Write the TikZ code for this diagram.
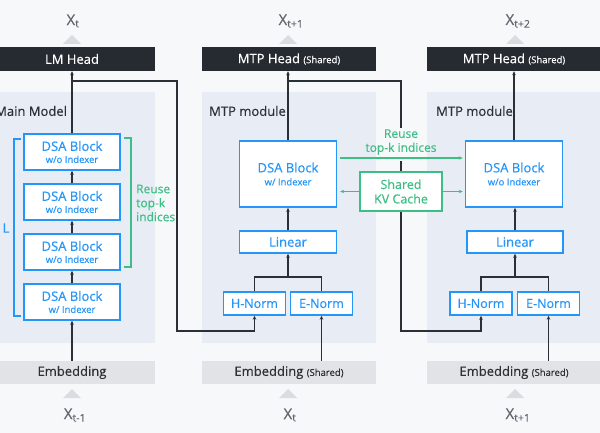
\documentclass[tikz,border=0pt]{standalone}
\usepackage{fontspec}
\setmainfont{Open Sans}[FakeBold=0.35]
\usetikzlibrary{arrows.meta}

\definecolor{bgcol}{HTML}{F7F8FA}
\definecolor{panelbg}{HTML}{E8ECF4}
\definecolor{headdark}{HTML}{262A31}
\definecolor{embgray}{HTML}{E1E3E6}
\definecolor{trigray}{HTML}{D9DCE0}
\definecolor{xgray}{HTML}{62666D}
\definecolor{dsablue}{HTML}{2496FA}
\definecolor{reusegreen}{HTML}{3DBE85}
\definecolor{linedark}{HTML}{2B2F36}

\newcommand{\subsz}{\fontsize{9.5}{11}\selectfont}

\tikzset{
  headbox/.style={fill=headdark, text=white, minimum height=24pt, inner sep=0pt, font=\fontsize{13}{15}\selectfont},
  embbar/.style={fill=embgray, text=linedark, minimum height=23pt, inner sep=0pt, font=\fontsize{13}{15}\selectfont},
  blk/.style={draw=dsablue, fill=white, line width=1.4pt, text=dsablue, align=center, inner sep=0pt, font=\fontsize{13}{15}\selectfont},
  modlabel/.style={text=linedark, inner sep=0pt, font=\fontsize{13}{15}\selectfont},
  xlabel/.style={text=xgray, inner sep=0pt, font=\fontsize{15}{17}\selectfont},
  gtext/.style={text=reusegreen, align=center, inner sep=0pt, font=\fontsize{12}{14}\selectfont},
  conn/.style={draw=linedark, line width=1.1pt},
  arr/.style={conn, -{Stealth[length=4pt,width=3.5pt]}},
  garr/.style={draw=reusegreen, line width=1.1pt, -{Stealth[length=4pt,width=3.5pt]}}
}

\begin{document}
\begin{tikzpicture}[x=1pt,y=-1pt]
\clip (0,0) rectangle (600,433);
\fill[bgcol] (0,0) rectangle (600,433);

% panels
\fill[panelbg] (-11,92) rectangle (155,343);
\fill[panelbg] (202,92) rectangle (376,343);
\fill[panelbg] (427,92) rectangle (601,343);
\node[modlabel, anchor=west] (mainlbl) at (-5,111) {Main Model};
\node[modlabel, anchor=west] (mtplbl1) at (209,111) {MTP module};
\node[modlabel, anchor=west] (mtplbl2) at (436,111) {MTP module};

% heads and outputs
\node[headbox, minimum width=166pt] (lmhead) at (72,59) {LM Head};
\node[headbox, minimum width=174pt] (mtphead1) at (289,59) {MTP Head {\subsz (Shared)}};
\node[headbox, minimum width=174pt] (mtphead2) at (514,59) {MTP Head {\subsz (Shared)}};
\foreach \cx in {72,288,515} {
  \fill[trigray] (\cx-9,44) -- (\cx+9,44) -- (\cx,35) -- cycle;
  \fill[trigray] (\cx-9,398) -- (\cx+9,398) -- (\cx,389) -- cycle;
}
\node[xlabel] (xout0) at (73,21) {X\textsubscript{t}};
\node[xlabel] (xout1) at (291,21) {X\textsubscript{t+1}};
\node[xlabel] (xout2) at (518,21) {X\textsubscript{t+2}};

% embeddings and inputs
\node[embbar, minimum width=166pt] (emb0) at (72,372.5) {Embedding};
\node[embbar, minimum width=174pt] (emb1) at (289,372.5) {Embedding {\subsz (Shared)}};
\node[embbar, minimum width=174pt] (emb2) at (514,372.5) {Embedding {\subsz (Shared)}};
\node[xlabel] (xin0) at (75,415) {X\textsubscript{t-1}};
\node[xlabel] (xin1) at (290,415) {X\textsubscript{t}};
\node[xlabel] (xin2) at (518,415) {X\textsubscript{t+1}};

% main model
\node[blk, minimum width=96pt, minimum height=36pt] (dsa1) at (72,152) {DSA Block\\[-3pt]{\subsz w/o Indexer}};
\node[blk, minimum width=96pt, minimum height=36pt] (dsa2) at (72,202) {DSA Block\\[-3pt]{\subsz w/o Indexer}};
\node[blk, minimum width=96pt, minimum height=36pt] (dsa3) at (72,252) {DSA Block\\[-3pt]{\subsz w/o Indexer}};
\node[blk, minimum width=96pt, minimum height=36pt] (dsa4) at (72,302) {DSA Block\\[-3pt]{\subsz w/ Indexer}};
\draw[dsablue, line width=1.3pt] (21,139) -- (14,139) -- (14,316) -- (21,316);
\node[text=dsablue, inner sep=0pt, font=\fontsize{13}{15}\selectfont] (llbl) at (6,228) {L};
\draw[reusegreen, line width=1.3pt] (124,138) -- (131,138) -- (131,267) -- (124,267);
\node[gtext, align=left, anchor=west] (reuse0) at (136,203) {Reuse\\top-k\\indices};

\draw[arr] (emb0.north) -- (dsa4.south);
\draw[arr] (dsa4.north) -- (dsa3.south);
\draw[arr] (dsa3.north) -- (dsa2.south);
\draw[arr] (dsa2.north) -- (dsa1.south);
\draw[arr] (dsa1.north) -- (lmhead.south);

% MTP module 1
\node[blk, minimum width=97pt, minimum height=66pt] (dsa5) at (288,174) {DSA Block\\[-2pt]{\subsz w/ Indexer}};
\node[blk, minimum width=97pt, minimum height=22pt] (lin1) at (288,242) {Linear};
\node[blk, minimum width=62pt, minimum height=23pt, font=\fontsize{12.5}{14}\selectfont] (hn1) at (254.5,303.5) {H-Norm};
\node[blk, minimum width=62pt, minimum height=23pt, font=\fontsize{12.5}{14}\selectfont] (en1) at (321.5,303.5) {E-Norm};
\coordinate (join1) at (288,277);
\draw[conn] (hn1.north) |- (join1) -| (en1.north);
\draw[arr] (join1) -- (lin1.south);
\draw[arr] (lin1.north) -- (dsa5.south);
\draw[arr] (dsa5.north) -- (dsa5.north |- mtphead1.south);
\draw[arr] (en1.south |- emb1.north) -- (en1.south);

% MTP module 2
\node[blk, minimum width=97pt, minimum height=66pt] (dsa6) at (514,174) {DSA Block\\[-2pt]{\subsz w/o Indexer}};
\node[blk, minimum width=96pt, minimum height=22pt] (lin2) at (515,242) {Linear};
\node[blk, minimum width=62pt, minimum height=23pt, font=\fontsize{12.5}{14}\selectfont] (hn2) at (481,303.5) {H-Norm};
\node[blk, minimum width=62pt, minimum height=23pt, font=\fontsize{12.5}{14}\selectfont] (en2) at (548.5,303.5) {E-Norm};
\coordinate (join2) at (515,277);
\draw[conn] (hn2.north) |- (join2) -| (en2.north);
\draw[arr] (join2) -- (lin2.south);
\draw[arr] (lin2.north) -- (lin2.north |- dsa6.south);
\draw[arr] (dsa6.north) -- (dsa6.north |- mtphead2.south);
\draw[arr] (en2.south |- emb2.north) -- (en2.south);

% hidden state hand-over
\coordinate (tap0) at (72,81);
\coordinate (down0) at (177,331);
\draw[arr] (tap0) -| (down0) -| (hn1.south);
\coordinate (tap1) at (288,81);
\coordinate (down1) at (401,331);
\draw[arr] (tap1) -| (down1) -| (hn2.south);
\fill[bgcol] (396,128) rectangle (406,161);

% shared between MTP modules
\node[gtext, minimum height=32pt, inner xsep=2pt] (reuse1) at (401,142) {Reuse\\top-k indices};
\node[gtext, draw=reusegreen, fill=white, line width=1.3pt, minimum width=82pt, minimum height=39pt, font=\fontsize{12.5}{14.5}\selectfont] (kvcache) at (401,191.5) {Shared\\KV Cache};
\draw[garr] ([xshift=3pt,yshift=16pt]dsa5.east) -- ([xshift=-2pt,yshift=16pt]dsa6.west);
\draw[garr] (kvcache.west) -- ([xshift=3pt]kvcache.west -| dsa5.east);
\draw[garr] (kvcache.east) -- ([xshift=-2pt]kvcache.east -| dsa6.west);
\end{tikzpicture}
\end{document}
